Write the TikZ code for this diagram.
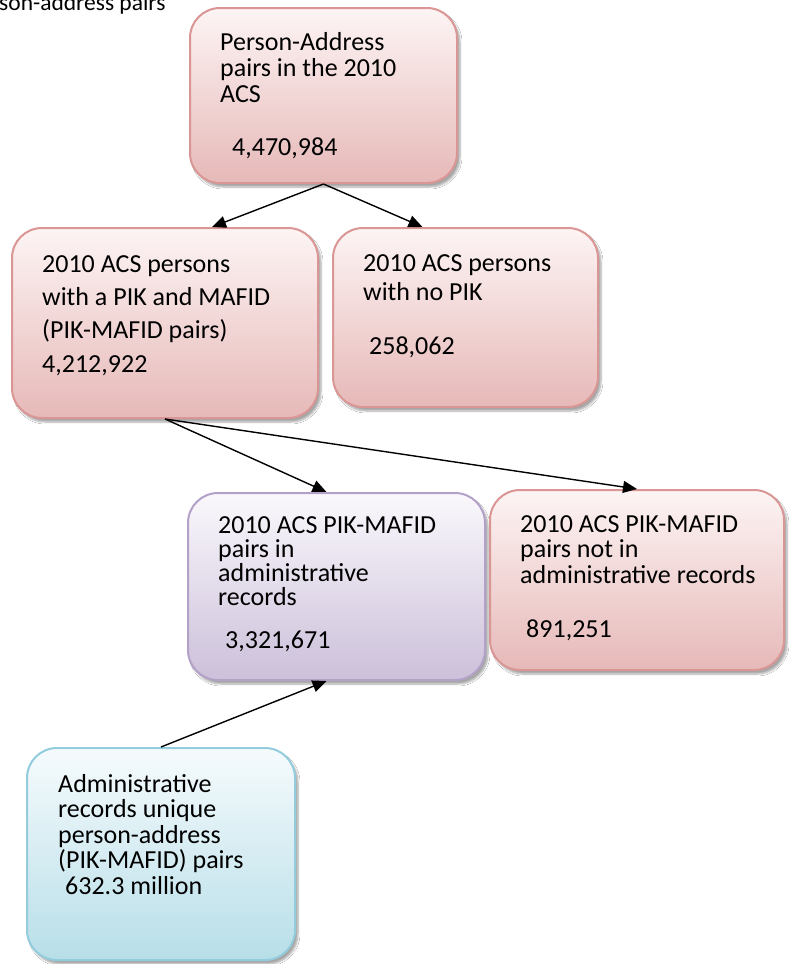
\documentclass[tikz,border=0pt]{standalone}
\usepackage{fontspec}
\setmainfont{Carlito}
\usetikzlibrary{arrows.meta,shadows.blur}
\definecolor{pinkB}{HTML}{D99694}
\definecolor{pinkBot}{HTML}{E6B9B8}
\definecolor{pinkTop}{HTML}{FDF4F4}
\definecolor{purB}{HTML}{B3A2C7}
\definecolor{purBot}{HTML}{CCC0DA}
\definecolor{purTop}{HTML}{FAF8FC}
\definecolor{bluB}{HTML}{93CDDD}
\definecolor{bluBot}{HTML}{B7DEE8}
\definecolor{bluTop}{HTML}{F6FBFD}
\tikzset{
  boxbase/.style={rectangle, rounded corners=30pt, line width=2pt, inner sep=0pt,
    blur shadow={shadow xshift=3pt, shadow yshift=-4pt, shadow blur steps=6, shadow opacity=35}},
  pinkbox/.style={boxbase, draw=pinkB, top color=pinkTop, bottom color=pinkBot},
  purbox/.style={boxbase, draw=purB, top color=purTop, bottom color=purBot},
  blubox/.style={boxbase, draw=bluB, top color=bluTop, bottom color=bluBot},
  txt/.style={anchor=base west, align=left, inner sep=0pt},
  conn/.style={line width=1.4pt, -{Triangle[length=14pt,width=12pt]}}
}
\begin{document}
\begin{tikzpicture}[x=1pt,y=1pt]
\useasboundingbox (0,0) rectangle (789,-964);
\fill[white] (0,0) rectangle (789,-964);

\node[txt, font=\fontsize{23.5}{26}\selectfont] (title) at (-1,-10) {son-address pairs};

\node[pinkbox, minimum width=267pt, minimum height=175pt] (b1) at (323.5,-95.5) {};
\node[pinkbox, minimum width=306pt, minimum height=190pt] (b2) at (165,-323) {};
\node[pinkbox, minimum width=265pt, minimum height=179pt] (b3) at (465.5,-317.5) {};
\node[purbox, minimum width=297pt, minimum height=187pt] (b4) at (336.5,-586.5) {};
\node[pinkbox, minimum width=294pt, minimum height=180pt] (b5) at (637,-580) {};
\node[blubox, minimum width=268pt, minimum height=212pt] (b6) at (161,-854) {};

% anchor base = baseline of the last line
\node[txt, font=\fontsize{26}{26}\selectfont] (t1) at (220,-102) {Person-Address\\pairs in the 2010\\ACS};
\node[txt, font=\fontsize{26}{26}\selectfont] (n1) at (232,-155) {4,470,984};

\node[txt, font=\fontsize{26}{33.3}\selectfont] (t2) at (42,-372) {2010 ACS persons\\with a PIK and MAFID\\(PIK-MAFID pairs)\\4,212,922};

\node[txt, font=\fontsize{26}{29}\selectfont] (t3) at (363,-300) {2010 ACS persons\\with no PIK};
\node[txt, font=\fontsize{26}{26}\selectfont] (n3) at (369,-354) {258,062};

\node[txt, font=\fontsize{26}{24}\selectfont] (t4) at (218,-605) {2010 ACS PIK-MAFID\\pairs in\\administrative\\records};
\node[txt, font=\fontsize{26}{26}\selectfont] (n4) at (225,-648) {3,321,671};

\node[txt, font=\fontsize{26}{25.5}\selectfont] (t5) at (520,-583) {2010 ACS PIK-MAFID\\pairs not in\\administrative records};
\node[txt, font=\fontsize{26}{26}\selectfont] (n5) at (526,-637) {891,251};

\node[txt, font=\fontsize{26}{25.5}\selectfont] (t6) at (58,-894) {Administrative\\records unique\\person-address\\(PIK-MAFID) pairs\\\hspace*{7pt}632.3 million};

\draw[conn] (b1.south) -- ([xshift=47pt]b2.north);
\draw[conn] (b1.south) -- ([xshift=-43pt]b3.north);
\draw[conn] (b2.south) -- ([xshift=-10pt]b4.north);
\draw[conn] (b2.south) -- (b5.north);
\draw[conn] (b6.north) -- ([xshift=-10pt]b4.south);
\end{tikzpicture}
\end{document}
